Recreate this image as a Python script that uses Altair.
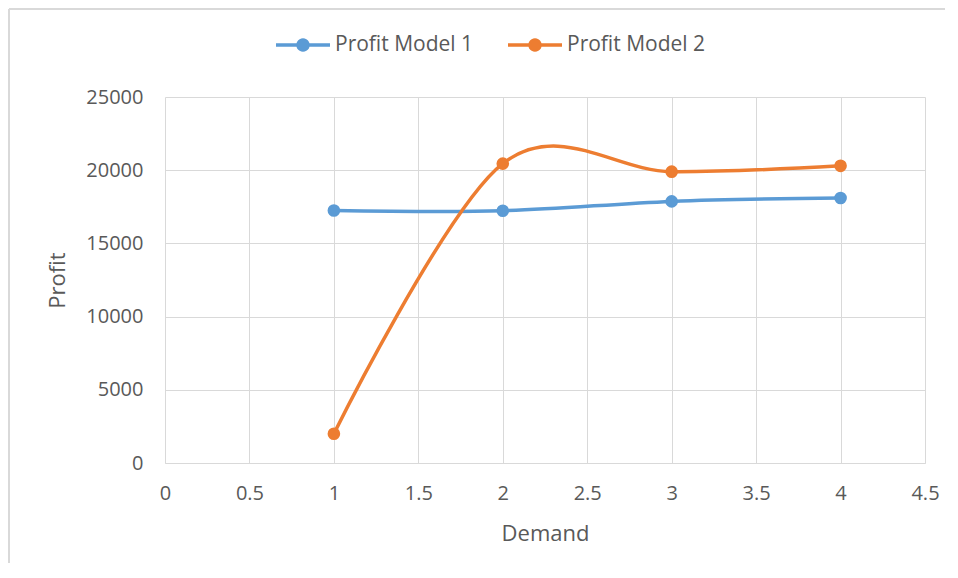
import altair as alt
import numpy as np
import pandas as pd

# ---- data ----
demand = [1, 2, 3, 4]
profit_model_1 = [17250, 17230, 17870, 18100]
profit_model_2 = [2000, 20450, 19900, 20300]
series_names = ["Profit Model 1", "Profit Model 2"]
series_colors = ["#5B9BD5", "#ED7D31"]
x_ticks = [0, 0.5, 1, 1.5, 2, 2.5, 3, 3.5, 4, 4.5]
y_ticks = [0, 5000, 10000, 15000, 20000, 25000]

rows = []
for name, vals in zip(series_names, [profit_model_1, profit_model_2]):
    for d, v in zip(demand, vals):
        rows.append({"Demand": d, "Profit": v, "Series": name})
df = pd.DataFrame(rows)

# legend symbol: a line with a dot in the middle (custom path in [-1, 1] box)
h = 0.065
r = 0.25
ang = np.linspace(np.pi, 3 * np.pi, 25)[:-1]
circ = " ".join(f"L{r*np.cos(a):.3f},{r*np.sin(a):.3f}" for a in ang[1:])
sym_path = (f"M-1,{-h}L1,{-h}L1,{h}L-1,{h}Z "
            f"M{r*np.cos(ang[0]):.3f},{r*np.sin(ang[0]):.3f}{circ}Z")

FONT = "Open Sans"
GRID = "#d9d9d9"
TXT = "#595959"

color_scale = alt.Scale(domain=series_names, range=series_colors)
x_enc = alt.X("Demand:Q", scale=alt.Scale(domain=[0, 4.5], nice=False),
              axis=alt.Axis(values=x_ticks, format="~g", title="Demand",
                            grid=True, gridColor=GRID, ticks=False, labelFlush=False,
                            domain=True, domainColor=GRID, domainWidth=1,
                            labelPadding=20, titlePadding=20,
                            labelFontSize=20, titleFontSize=22))
y_enc = alt.Y("Profit:Q", scale=alt.Scale(domain=[0, 25000], nice=False),
              axis=alt.Axis(values=y_ticks, format="d", title="Profit",
                            grid=True, gridColor=GRID, ticks=False, labelFlush=False,
                            domain=False, labelPadding=22, titlePadding=16,
                            labelFontSize=20, titleFontSize=22))

legend = alt.Legend(title=None, orient="none", direction="horizontal",
                    legendX=111, legendY=-79,
                    symbolType=sym_path, symbolSize=2916,
                    symbolStrokeWidth=0, symbolOpacity=1,
                    labelFontSize=21, labelFont=FONT, labelColor=TXT,
                    labelOffset=5, columnPadding=34)

lines = alt.Chart(df).mark_line(interpolate="cardinal", strokeWidth=3.5).encode(
    x=x_enc, y=y_enc,
    color=alt.Color("Series:N", scale=color_scale, legend=legend),
)

points = alt.Chart(df).mark_point(filled=True, size=160, opacity=1).encode(
    x=x_enc, y=y_enc,
    color=alt.Color("Series:N", scale=color_scale, legend=legend),
)

# chart-area border (decoration)
border_left = alt.Chart(df).mark_rule(color=GRID, strokeWidth=2).encode(
    x=alt.value(-156), y=alt.value(-88), y2=alt.value(470))
border_top = alt.Chart(df).mark_rule(color=GRID, strokeWidth=2).encode(
    x=alt.value(-156), x2=alt.value(780), y=alt.value(-88))

chart = alt.layer(border_left, border_top, lines, points).properties(
    width=760, height=366,
    autosize=alt.AutoSizeParams(type="none"),
    padding={"left": 157, "top": 89, "right": 20, "bottom": 100},
    background="white",
).configure_view(stroke="transparent").configure_axis(
    labelFont=FONT, titleFont=FONT, labelColor=TXT, titleColor=TXT,
    titleFontWeight="normal",
)

chart.save("out.html", embed_options={"renderer": "svg", "actions": False})
